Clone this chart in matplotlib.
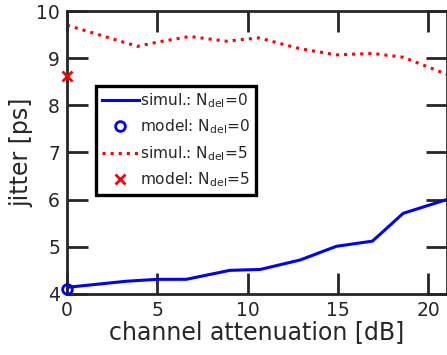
"""Jitter vs channel attenuation: simulation curves and model points."""

import matplotlib
matplotlib.use("Agg")
from matplotlib import pyplot as plt

# simulated jitter, N_del = 0
atten_n0 = [0, 3.3, 5, 6.6, 9, 10.7, 12.9, 14.9, 16.9, 18.6, 21]
jitter_n0 = [4.14, 4.27, 4.31, 4.31, 4.5, 4.52, 4.72, 5.01, 5.12, 5.71, 6.0]

# simulated jitter, N_del = 5
atten_n5 = [0, 3.9, 5, 6.8, 8.8, 10.6, 12.9, 14.9, 16.9, 18.6, 21]
jitter_n5 = [9.7, 9.25, 9.34, 9.46, 9.36, 9.43, 9.2, 9.07, 9.1, 9.02, 8.66]

# model predictions at 0 dB
model_atten = [0]
model_n0 = [4.1]
model_n5 = [8.62]

x_ticks = [0, 5, 10, 15, 20]
y_ticks = [4, 5, 6, 7, 8, 9, 10]

text_color = "#262626"
plt.rcParams["font.family"] = "DejaVu Sans"
plt.rcParams["mathtext.fontset"] = "dejavusans"

fig = plt.figure(figsize=(4.47, 3.55), dpi=100)
ax = fig.add_axes([0.150, 0.172, 0.849, 0.797])

ax.plot(atten_n0, jitter_n0, color="#0000ff", linewidth=2.2,
        label=r"simul.: N$_\mathrm{del}$=0")
ax.plot(model_atten, model_n0, linestyle="none", marker="o", markersize=7,
        markerfacecolor="none", markeredgecolor="#0000ff", markeredgewidth=2,
        clip_on=False, zorder=5, label=r"model: N$_\mathrm{del}$=0")
ax.plot(atten_n5, jitter_n5, color="#ff0000", linewidth=2.2, linestyle=":",
        label=r"simul.: N$_\mathrm{del}$=5")
ax.plot(model_atten, model_n5, linestyle="none", marker="x", markersize=7,
        color="#ff0000", markeredgewidth=2, clip_on=False, zorder=5,
        label=r"model: N$_\mathrm{del}$=5")

ax.set_xlim(0, 21)
ax.set_ylim(4, 10)
ax.set_xticks(x_ticks)
ax.set_yticks(y_ticks)
ax.tick_params(direction="in", length=15, width=2, top=True, right=True,
               labelsize=13.5, colors=text_color, pad=5)
for spine in ax.spines.values():
    spine.set_linewidth(2)
    spine.set_color(text_color)

ax.set_xlabel("channel attenuation [dB]", fontsize=17, color=text_color, labelpad=0)
ax.set_ylabel("jitter [ps]", fontsize=17, color=text_color, labelpad=2)

leg = ax.legend(loc="upper left", bbox_to_anchor=(0.077, 0.735), borderaxespad=0,
                fontsize=11.1, handlelength=2.4, handletextpad=0.1,
                fancybox=False, framealpha=1, edgecolor="black",
                borderpad=0.35, labelspacing=0.5)
leg.get_frame().set_linewidth(2.4)
for text in leg.get_texts():
    text.set_color(text_color)

fig.savefig("out.png", dpi=100)
